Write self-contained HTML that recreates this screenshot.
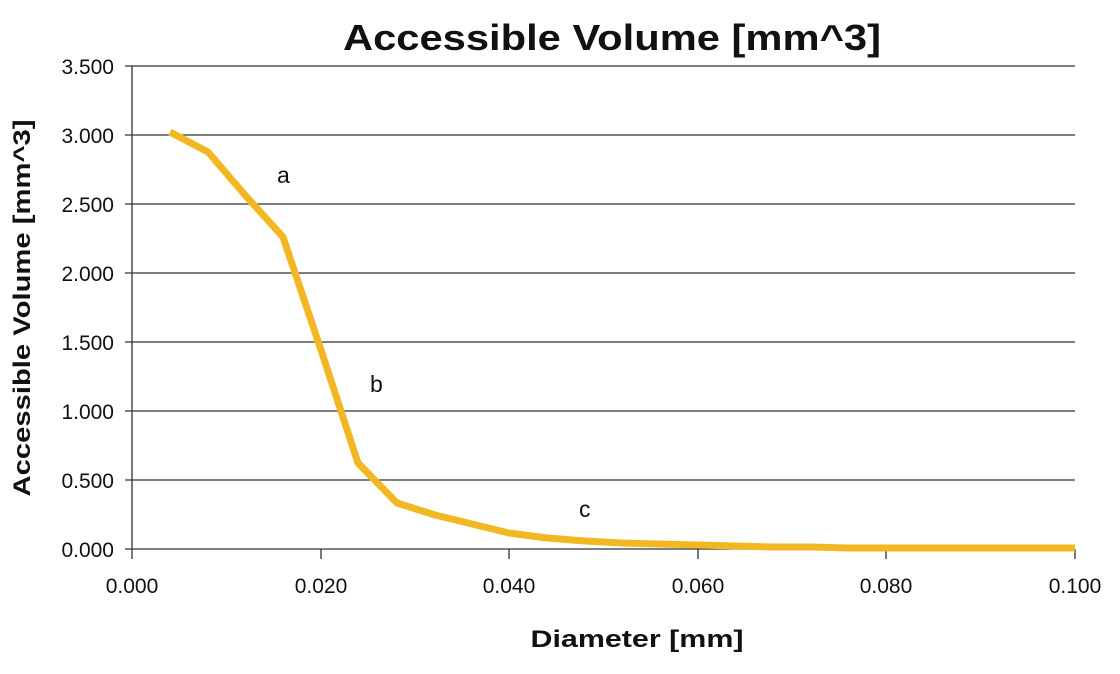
<!DOCTYPE html>
<html><head><meta charset="utf-8"><style>
body{margin:0;background:#fff;}
svg text{font-family:"Liberation Sans",sans-serif;fill:#111;}
</style></head><body>
<svg width="1120" height="669" xmlns="http://www.w3.org/2000/svg">
<rect width="1120" height="669" fill="#fff"/>
<text x="612" y="50" text-anchor="middle" font-size="36" font-weight="bold" textLength="538" lengthAdjust="spacingAndGlyphs">Accessible Volume [mm^3]</text>
<g stroke="#333" stroke-width="1.3">
<line x1="125" y1="66" x2="1075" y2="66"/>
<line x1="125" y1="135" x2="1075" y2="135"/>
<line x1="125" y1="204" x2="1075" y2="204"/>
<line x1="125" y1="273" x2="1075" y2="273"/>
<line x1="125" y1="342" x2="1075" y2="342"/>
<line x1="125" y1="411" x2="1075" y2="411"/>
<line x1="125" y1="480" x2="1075" y2="480"/>
<line x1="125" y1="549" x2="1075" y2="549"/>
<line x1="132" y1="66" x2="132" y2="559"/>
<line x1="321" y1="549" x2="321" y2="559"/>
<line x1="509" y1="549" x2="509" y2="559"/>
<line x1="698" y1="549" x2="698" y2="559"/>
<line x1="886" y1="549" x2="886" y2="559"/>
<line x1="1075" y1="549" x2="1075" y2="559"/>
</g>
<g font-size="21" text-anchor="end">
<text x="114" y="74">3.500</text>
<text x="114" y="143">3.000</text>
<text x="114" y="212">2.500</text>
<text x="114" y="281">2.000</text>
<text x="114" y="350">1.500</text>
<text x="114" y="419">1.000</text>
<text x="114" y="488">0.500</text>
<text x="114" y="557">0.000</text>
</g>
<g font-size="21" text-anchor="middle">
<text x="132" y="593">0.000</text>
<text x="321" y="593">0.020</text>
<text x="509" y="593">0.040</text>
<text x="698" y="593">0.060</text>
<text x="886" y="593">0.080</text>
<text x="1075" y="593">0.100</text>
</g>
<text x="637" y="647" text-anchor="middle" font-size="24" font-weight="bold" textLength="213" lengthAdjust="spacingAndGlyphs">Diameter [mm]</text>
<text transform="translate(30,308) rotate(-90)" text-anchor="middle" font-size="24" font-weight="bold" textLength="377" lengthAdjust="spacingAndGlyphs">Accessible Volume [mm^3]</text>
<polyline fill="none" stroke="#F2B824" stroke-width="7" stroke-linejoin="round" points="170,132 208,152 245,195 283,237 321,350 358,463 397,503 435,515 472,524 509,533 547,538 585,541 622,543 660,544 698,545 736,546 773,547 811,547 849,548 886,548 1075,548"/>
<g font-size="23">
<text x="277" y="183">a</text>
<text x="370" y="392">b</text>
<text x="579" y="517">c</text>
</g>
</svg>
</body></html>
